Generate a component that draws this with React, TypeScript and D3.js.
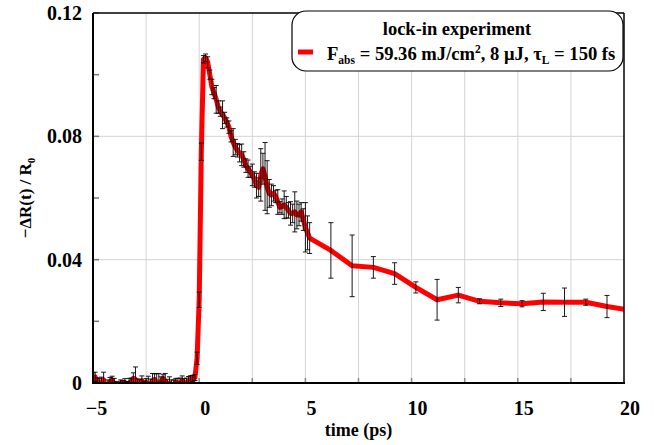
import React from "react";
import * as d3 from "d3";

const times: number[] = [
  -5.0, -4.9, -4.8, -4.7, -4.6, -4.5, -4.4, -4.3, -4.2, -4.1,
  -4.0, -3.9, -3.8, -3.7, -3.6, -3.5, -3.4, -3.3, -3.2, -3.1,
  -3.0, -2.9, -2.8, -2.7, -2.6, -2.5, -2.4, -2.3, -2.2, -2.1,
  -2.0, -1.9, -1.8, -1.7, -1.6, -1.5, -1.4, -1.3, -1.2, -1.1,
  -1.0, -0.9, -0.8, -0.7, -0.6, -0.5, -0.4, -0.3, -0.2, -0.1,
  0.0, 0.1, 0.2, 0.3, 0.4, 0.5, 0.6, 0.7, 0.8, 0.9,
  1.0, 1.1, 1.2, 1.3, 1.4, 1.5, 1.6, 1.7, 1.8, 1.9,
  2.0, 2.1, 2.2, 2.3, 2.4, 2.5, 2.6, 2.7, 2.8, 2.9,
  3.0, 3.1, 3.2, 3.3, 3.4, 3.5, 3.6, 3.7, 3.8, 3.9,
  4.0, 4.1, 4.2, 4.3, 4.4, 4.5, 4.6, 4.7, 4.8, 4.9,
  5.0, 5.1, 5.2,
  6.2, 7.2, 8.2, 9.2, 10.2, 11.2, 12.2, 13.2, 14.2, 15.2,
  16.2, 17.2, 18.2, 19.2, 20.2,
];

const signal: number[] = [
  0.0015, 0.002, 0.0005, -0.0005, 0.0004, 0.001, -0.0015, -0.002, 0.0003, 0.001,
  -0.0005, -0.001, -0.0012, 0.0, -0.0007, 0.0002, -0.0005, 0.0, 0.0004, 0.0015,
  0.0012, -0.0002, 0.0, 0.0008, -0.0004, 0.0002, -0.0008, -0.0002, 0.0006, 0.0012,
  0.0, -0.0004, 0.0005, 0.0015, 0.0006, -0.0003, 0.0, -0.0008, -0.0005, 0.0003,
  0.0, -0.0004, 0.0008, 0.0002, -0.0002, 0.0006, 0.0012, 0.0015, 0.0018, 0.008,
  0.027, 0.075, 0.105, 0.1055, 0.104, 0.1, 0.096, 0.094, 0.092, 0.0895,
  0.088, 0.087, 0.086, 0.0845, 0.083, 0.08, 0.078, 0.0765, 0.0755, 0.0745,
  0.074, 0.0725, 0.0705, 0.0695, 0.0685, 0.0675, 0.066, 0.064, 0.0635, 0.0675,
  0.0695, 0.067, 0.0635, 0.0615, 0.061, 0.0615, 0.0605, 0.0587, 0.057, 0.0572,
  0.0578, 0.057, 0.056, 0.055, 0.055, 0.0555, 0.0545, 0.0545, 0.0555, 0.053,
  0.0505, 0.0487, 0.047,
  0.043, 0.038, 0.0375, 0.0355, 0.031, 0.027, 0.0285, 0.0265, 0.026, 0.0257,
  0.0263, 0.0262, 0.0262, 0.0248, 0.0237,
];

const errors: number[] = [
  0.0018, 0.0015, 0.0012, 0.002, 0.0015, 0.0025, 0.0012, 0.003, 0.0015, 0.0012,
  0.002, 0.0015, 0.0012, 0.001, 0.0015, 0.0012, 0.001, 0.0015, 0.0012, 0.0018,
  0.004, 0.0015, 0.0012, 0.0015, 0.001, 0.0012, 0.003, 0.0015, 0.0025, 0.0018,
  0.003, 0.0035, 0.0015, 0.0012, 0.0025, 0.0015, 0.002, 0.0018, 0.0015, 0.0012,
  0.0015, 0.002, 0.0015, 0.0012, 0.0018, 0.0015, 0.0012, 0.001, 0.001, 0.002,
  0.0025, 0.0028, 0.0012, 0.0012, 0.0018, 0.0015, 0.0025, 0.0018, 0.0045, 0.002,
  0.0015, 0.0045, 0.0018, 0.0015, 0.002, 0.0018, 0.0045, 0.0025, 0.0022, 0.0028,
  0.0035, 0.0025, 0.0022, 0.0028, 0.0018, 0.0035, 0.0025, 0.004, 0.003, 0.0085,
  0.005, 0.011, 0.0086, 0.0045, 0.0035, 0.0025, 0.002, 0.004, 0.0018, 0.0025,
  0.0045, 0.0035, 0.0025, 0.0038, 0.003, 0.0065, 0.0045, 0.0035, 0.003, 0.0035,
  0.008, 0.0055, 0.005,
  0.009, 0.01, 0.0035, 0.0035, 0.0018, 0.0066, 0.0025, 0.0008, 0.0012, 0.001,
  0.0028, 0.0046, 0.001, 0.0036, 0.002,
];

const xMajorTicks: number[] = [-5, 0, 5, 10, 15, 20];
const xGridTicks: number[] = [-2.5, 0, 2.5, 5, 7.5, 10, 12.5, 15, 17.5];
const yMajorTicks: number[] = [0, 0.04, 0.08, 0.12];
const yMinorTicks: number[] = [0.02, 0.06, 0.1];

const FONT = "'Liberation Serif', 'Times New Roman', serif";

export default function App() {
  const left = 93;
  const right = 624;
  const top = 13;
  const bottom = 383;

  const x = d3.scaleLinear().domain([-5, 20]).range([left, right]);
  const y = d3.scaleLinear().domain([0, 0.12]).range([bottom, top]);

  const pts = times.map((t, i) => ({ t, v: signal[i], e: errors[i] }));
  const line = d3
    .line<{ t: number; v: number }>()
    .x((d) => x(d.t))
    .y((d) => y(d.v))
    .curve(d3.curveLinear);

  const fmtY = (v: number) => (v === 0 ? "0" : d3.format(".2f")(v));
  const fmtX = (v: number) => (v < 0 ? "\u2212" + Math.abs(v) : String(v));

  return (
    <svg
      width={654}
      height={445}
      style={{ position: "absolute", left: 0, top: 0, background: "#fff" }}
      fontFamily={FONT}
    >
      <defs>
        <clipPath id="plotclip">
          <rect x={left} y={top} width={right - left} height={bottom - top} />
        </clipPath>
      </defs>
      <rect x={0} y={0} width={654} height={445} fill="#fff" />

      {/* grid */}
      {xGridTicks.map((t) => (
        <line key={"gx" + t} x1={x(t)} x2={x(t)} y1={top} y2={bottom} stroke="#d4d4d4" strokeWidth={1} />
      ))}
      {yMajorTicks
        .filter((v) => v > 0 && v < 0.12)
        .map((v) => (
          <line key={"gy" + v} x1={left} x2={right} y1={y(v)} y2={y(v)} stroke="#d4d4d4" strokeWidth={1} />
        ))}

      {/* ticks */}
      {xGridTicks.map((t) => (
        <line key={"tx" + t} x1={x(t)} x2={x(t)} y1={bottom} y2={bottom - 5} stroke="#888" strokeWidth={1.5} />
      ))}
      {yMajorTicks.concat(yMinorTicks).map((v) => (
        <line key={"ty" + v} x1={left} x2={left + 6} y1={y(v)} y2={y(v)} stroke="#777" strokeWidth={1.5} />
      ))}

      {/* data line */}
      <g clipPath="url(#plotclip)">
        <path d={line(pts) || ""} fill="none" stroke="#ff0000" strokeWidth={5} strokeLinejoin="round" />
        {pts.map((d, i) => (
          <g key={"e" + i} stroke="#000" strokeWidth={1} opacity={0.9}>
            <line x1={x(d.t)} x2={x(d.t)} y1={y(d.v - d.e)} y2={y(d.v + d.e)} />
            <line x1={x(d.t) - 2.5} x2={x(d.t) + 2.5} y1={y(d.v - d.e)} y2={y(d.v - d.e)} />
            <line x1={x(d.t) - 2.5} x2={x(d.t) + 2.5} y1={y(d.v + d.e)} y2={y(d.v + d.e)} />
          </g>
        ))}
      </g>

      {/* frame */}
      <line x1={left} x2={right} y1={top} y2={top} stroke="#000" strokeWidth={1.5} />
      <line x1={right} x2={right} y1={top} y2={bottom} stroke="#000" strokeWidth={1.5} />
      <line x1={left} x2={left} y1={top} y2={bottom + 1} stroke="#000" strokeWidth={2} />
      <line x1={left - 1} x2={right + 1} y1={bottom} y2={bottom} stroke="#000" strokeWidth={2} />

      {/* y tick labels */}
      {yMajorTicks.map((v) => (
        <text
          key={"ly" + v}
          x={82}
          y={y(v)}
          dy="0.35em"
          textAnchor="end"
          fontSize={20}
          fontWeight="bold"
        >
          {fmtY(v)}
        </text>
      ))}

      {/* x tick labels */}
      {xMajorTicks.map((t) => (
        <text
          key={"lx" + t}
          x={x(t) + (t < 0 ? 3.5 : 6)}
          y={415}
          textAnchor="middle"
          fontSize={20}
          fontWeight="bold"
        >
          {fmtX(t)}
        </text>
      ))}

      {/* axis titles */}
      <text x={(left + right) / 2} y={436} textAnchor="middle" fontSize={18} fontWeight="bold">
        time (ps)
      </text>
      <text
        transform={`translate(31, ${(top + bottom) / 2}) rotate(-90)`}
        textAnchor="middle"
        fontSize={17}
        fontWeight="bold"
      >
        {"\u2212\u0394R(t) / R"}
        <tspan fontSize={11} dy={4}>0</tspan>
      </text>

      {/* legend */}
      <rect x={292} y={11} width={331} height={60} rx={14} ry={14} fill="#fff" stroke="#000" strokeWidth={1.2} />
      <text x={457} y={35} textAnchor="middle" fontSize={18.5} fontWeight="bold">
        lock-in experiment
      </text>
      <line x1={298} x2={313} y1={52} y2={52} stroke="#ff0000" strokeWidth={5} />
      <text x={327} y={60} fontSize={18.6} fontWeight="bold">
        F
        <tspan fontSize={11.5} dy={4}>abs</tspan>
        <tspan dy={-4}>{" = 59.36 mJ/cm"}</tspan>
        <tspan fontSize={11.5} dy={-7}>2</tspan>
        <tspan dy={7}>{", 8 \u03bcJ, \u03c4"}</tspan>
        <tspan fontSize={11.5} dy={4}>L</tspan>
        <tspan dy={-4}>{" = 150 fs"}</tspan>
      </text>
    </svg>
  );
}
